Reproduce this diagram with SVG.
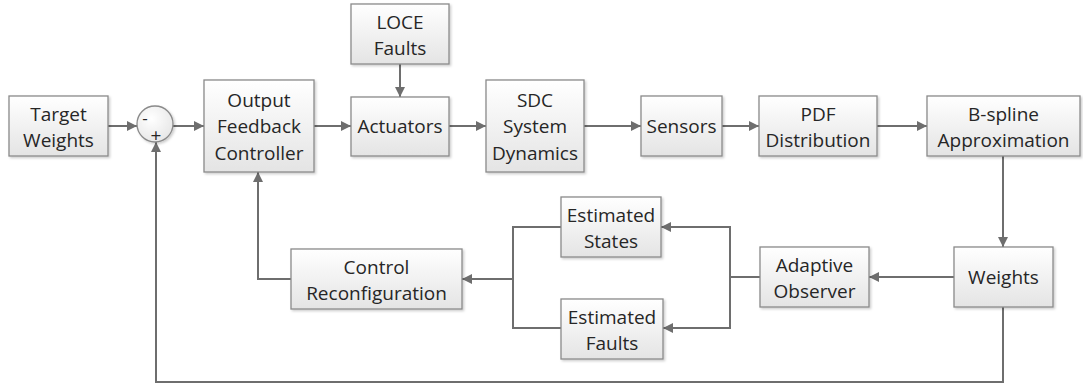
<svg xmlns="http://www.w3.org/2000/svg" width="1083" height="388" viewBox="0 0 1083 388">
<style>
.box{fill:url(#g);stroke:#8a8a8a;stroke-width:1.3;filter:url(#sh)}
.t{font-family:"Open Sans","Liberation Sans",sans-serif;font-size:19px;fill:#262626;text-anchor:middle}
.c{fill:none;stroke:#6e6e6e;stroke-width:2}
.a{marker-end:url(#ar)}
</style>
<defs>
<linearGradient id="g" x1="0" y1="0" x2="0" y2="1">
<stop offset="0" stop-color="#ffffff"/>
<stop offset="1" stop-color="#e4e4e4"/>
</linearGradient>
<radialGradient id="cg" cx="0.4" cy="0.35" r="0.7">
<stop offset="0" stop-color="#ffffff"/>
<stop offset="1" stop-color="#e6e6e6"/>
</radialGradient>
<filter id="sh" x="-10%" y="-10%" width="130%" height="130%">
<feDropShadow dx="1.5" dy="1.5" stdDeviation="1" flood-color="#000" flood-opacity="0.2"/>
</filter>
<marker id="ar" viewBox="0 0 10 10" refX="10" refY="5" markerWidth="5.5" markerHeight="5" orient="auto" markerUnits="strokeWidth">
<path d="M0,0 L10,5 L0,10 z" fill="#6e6e6e"/>
</marker>
</defs>
<g id="connectors">
<path class="c a" d="M108,126 H137"/>
<path class="c a" d="M173,126 H204"/>
<path class="c a" d="M314,126 H351"/>
<path class="c a" d="M400,64 V97"/>
<path class="c a" d="M449,126 H486"/>
<path class="c a" d="M584,126 H641"/>
<path class="c a" d="M722,126 H759"/>
<path class="c a" d="M877,126 H927"/>
<path class="c a" d="M1003,156 V247"/>
<path class="c a" d="M954,277 H869"/>
<path class="c" d="M760,277 H730"/>
<path class="c a" d="M730,277 V227 H661"/>
<path class="c a" d="M730,277 V328 H663"/>
<path class="c" d="M561,227 H513 V328 H561"/>
<path class="c a" d="M513,279 H462"/>
<path class="c a" d="M291,279 H258 V172"/>
<path class="c a" d="M1003,307 V382 H156 V142"/>
</g>
<g id="target">
<rect class="box" x="9" y="96" width="99" height="60"/>
<text class="t" x="58.5" y="121">Target</text>
<text class="t" x="58.5" y="147">Weights</text>
</g>
<g id="sum">
<circle cx="155" cy="124" r="18" fill="url(#cg)" stroke="#8a8a8a" stroke-width="1.3" filter="url(#sh)"/>
<text class="t" x="145" y="124" style="font-size:17px">-</text>
<text class="t" x="156" y="142" style="font-size:19px">+</text>
</g>
<g id="ofc">
<rect class="box" x="204" y="80" width="110" height="92"/>
<text class="t" x="259" y="107">Output</text>
<text class="t" x="259" y="133">Feedback</text>
<text class="t" x="259" y="160">Controller</text>
</g>
<g id="loce">
<rect class="box" x="351" y="4" width="98" height="60"/>
<text class="t" x="400" y="29">LOCE</text>
<text class="t" x="400" y="55">Faults</text>
</g>
<g id="actuators">
<rect class="box" x="351" y="97" width="98" height="59"/>
<text class="t" x="400" y="133">Actuators</text>
</g>
<g id="sdc">
<rect class="box" x="486" y="80" width="98" height="92"/>
<text class="t" x="535" y="107">SDC</text>
<text class="t" x="535" y="133">System</text>
<text class="t" x="535" y="160">Dynamics</text>
</g>
<g id="sensors">
<rect class="box" x="641" y="96" width="81" height="60"/>
<text class="t" x="681.5" y="133">Sensors</text>
</g>
<g id="pdf">
<rect class="box" x="759" y="96" width="118" height="60"/>
<text class="t" x="818" y="121">PDF</text>
<text class="t" x="818" y="147">Distribution</text>
</g>
<g id="bspline">
<rect class="box" x="927" y="96" width="153" height="60"/>
<text class="t" x="1003.5" y="121">B-spline</text>
<text class="t" x="1003.5" y="147">Approximation</text>
</g>
<g id="weights">
<rect class="box" x="954" y="247" width="99" height="60"/>
<text class="t" x="1003.5" y="284">Weights</text>
</g>
<g id="observer">
<rect class="box" x="760" y="247" width="109" height="60"/>
<text class="t" x="814.5" y="272">Adaptive</text>
<text class="t" x="814.5" y="298">Observer</text>
</g>
<g id="states">
<rect class="box" x="561" y="197" width="100" height="60"/>
<text class="t" x="611" y="222">Estimated</text>
<text class="t" x="611" y="248">States</text>
</g>
<g id="faults">
<rect class="box" x="561" y="299" width="102" height="60"/>
<text class="t" x="612" y="324">Estimated</text>
<text class="t" x="612" y="350">Faults</text>
</g>
<g id="reconfig">
<rect class="box" x="291" y="249" width="171" height="60"/>
<text class="t" x="376.5" y="274">Control</text>
<text class="t" x="376.5" y="300">Reconfiguration</text>
</g>
</svg>
